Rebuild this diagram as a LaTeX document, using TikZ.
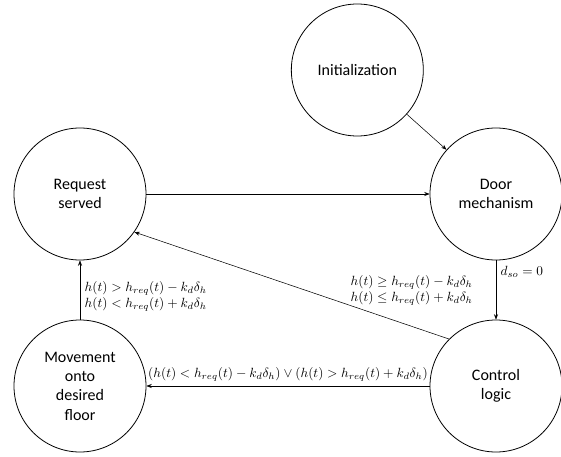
\documentclass[tikz,border=0pt]{standalone}
\usepackage{amsmath}
\usepackage{fontspec}
\setmainfont{Carlito}
\usetikzlibrary{arrows.meta, positioning}

\begin{document}
\begin{tikzpicture}[auto, on grid,
 state/.style={circle, draw, semithick, minimum size=99pt, align=center,
   font=\fontsize{12}{14.5}\selectfont},
 trans/.style={draw, thin, -{Stealth[length=4pt, width=3pt]}}]

  \useasboundingbox (-60pt,145.5pt) rectangle ++(420.75pt,-342.75pt);

  \node[state] (req) {Request\\served};
  \node[state] (door) [right=312pt of req] {Door\\mechanism};
  \node[state] (init) [above left=93pt and 104pt of door] {Initialization};
  \node[state] (ctrl) [below=144pt of door] {Control\\logic};
  \node[state] (move) [below=144pt of req] {Movement\\onto\\desired\\floor};

  \path[trans] (init) edge (door);
  \path[trans] (req) edge (door);
  \path[trans] (door) edge node[right, pos=0.2] {$d_{so}=0$}
     node[left=14pt, align=center, pos=0.5, swap] {$h(t) \geq h_{req}(t) - k_d\delta_h$\\$h(t) \leq h_{req}(t) + k_d\delta_h$} (ctrl);
  \draw[trans] (ctrl.135) -- (req.-35);
  \path[trans] (ctrl) edge node[swap, above] {$\left(h(t) < h_{req}(t) - k_d\delta_h\right) \vee \left(h(t) > h_{req}(t) + k_d\delta_h\right)$} (move);
  \path[trans] (move) edge node[right, align=left, pos=0.4] {$h(t) > h_{req}(t) - k_d\delta_h$\\$h(t) < h_{req}(t) + k_d\delta_h$} (req);
\end{tikzpicture}
\end{document}
